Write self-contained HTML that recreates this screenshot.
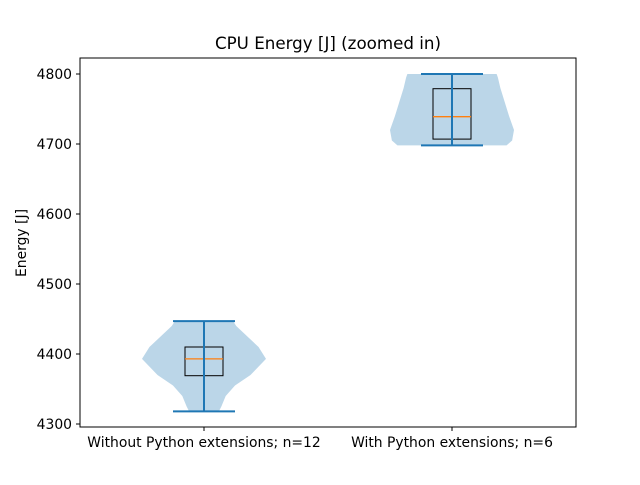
<!DOCTYPE html>
<html><head><meta charset="utf-8"><style>
body{margin:0;background:#fff;}
svg text{font-family:"DejaVu Sans","Liberation Sans",sans-serif;}
</style></head><body>
<svg id="chart" width="640" height="480" viewBox="0 0 640 480">
<rect width="640" height="480" fill="#fff"/>
<text x="328" y="49" font-size="16.7" text-anchor="middle">CPU Energy [J] (zoomed in)</text>
<text transform="translate(26,243) rotate(-90)" font-size="13.9" text-anchor="middle">Energy [J]</text>
<g id="plot"></g>
<rect x="80" y="58" width="496" height="369" fill="none" stroke="#000" stroke-width="1"/>
</svg>
<script>
const categories = ["Without Python extensions; n=12", "With Python extensions; n=6"];
const mins = [4318, 4698];
const maxs = [4447, 4800];
const q1s = [4369, 4707];
const q3s = [4410, 4779];
const medians = [4393, 4739];
const profileLevels = [
  [4318, 4325, 4340, 4355, 4370, 4393, 4410, 4425, 4440, 4447],
  [4698, 4705, 4720, 4740, 4760, 4780, 4795, 4800]
];
const profileWidths = [
  [0.24, 0.28, 0.35, 0.5, 0.75, 1.0, 0.88, 0.7, 0.52, 0.47],
  [0.88, 0.97, 1.0, 0.92, 0.85, 0.78, 0.74, 0.72]
];
const yTicks = [4300, 4400, 4500, 4600, 4700, 4800];

const y = v => 424 - (v - 4300) * 0.7;
const xc = i => 204 + i * 248;
const maxHalf = 62;
const ns = "http://www.w3.org/2000/svg";
const svg = document.getElementById('chart');
const g = document.getElementById('plot');
function mk(tag, attrs, parent) {
  const e = document.createElementNS(ns, tag);
  for (const k in attrs) e.setAttribute(k, attrs[k]);
  (parent || g).appendChild(e);
  return e;
}
yTicks.forEach(t => {
  const ty = y(t);
  const tk = mk('line', {x1: 76, x2: 80, y1: ty, y2: ty, stroke: '#000'}, svg);
  
  
  const tl = mk('text', {x: 72, y: ty + 5, 'font-size': 13.9, 'text-anchor': 'end'}, svg);
  tl.textContent = t;
  
  
});
categories.forEach((c, i) => {
  const cx = xc(i);
  const lv = profileLevels[i], wd = profileWidths[i];
  let right = [], left = [];
  for (let k = 0; k < lv.length; k++) {
    right.push((cx + wd[k] * maxHalf) + ',' + y(lv[k]));
    left.unshift((cx - wd[k] * maxHalf) + ',' + y(lv[k]));
  }
  const vio = mk('polygon', {points: right.concat(left).join(' '), fill: '#1f77b4', 'fill-opacity': 0.3, stroke: 'none'});
  
  
  const bx = mk('rect', {x: cx - 19, y: y(q3s[i]), width: 38, height: y(q1s[i]) - y(q3s[i]), fill: 'none', stroke: '#000', 'stroke-width': 1});
  
  
  const md = mk('line', {x1: cx - 19, x2: cx + 19, y1: y(medians[i]), y2: y(medians[i]), stroke: '#ff7f0e', 'stroke-width': 1.3});
  
  
  const st = mk('line', {x1: cx, x2: cx, y1: y(maxs[i]), y2: y(mins[i]), stroke: '#1f77b4', 'stroke-width': 2});
  
  
  [maxs[i], mins[i]].forEach(v => {
    const cap = mk('line', {x1: cx - 31, x2: cx + 31, y1: y(v), y2: y(v), stroke: '#1f77b4', 'stroke-width': 2});
    
    
  });
  const xt = mk('line', {x1: cx, x2: cx, y1: 427, y2: 431, stroke: '#000'}, svg);
  
  
  const xl = mk('text', {x: cx, y: 447, 'font-size': 13.9, 'text-anchor': 'middle'}, svg);
  xl.textContent = c;
  
  
});
</script>
</body></html>
